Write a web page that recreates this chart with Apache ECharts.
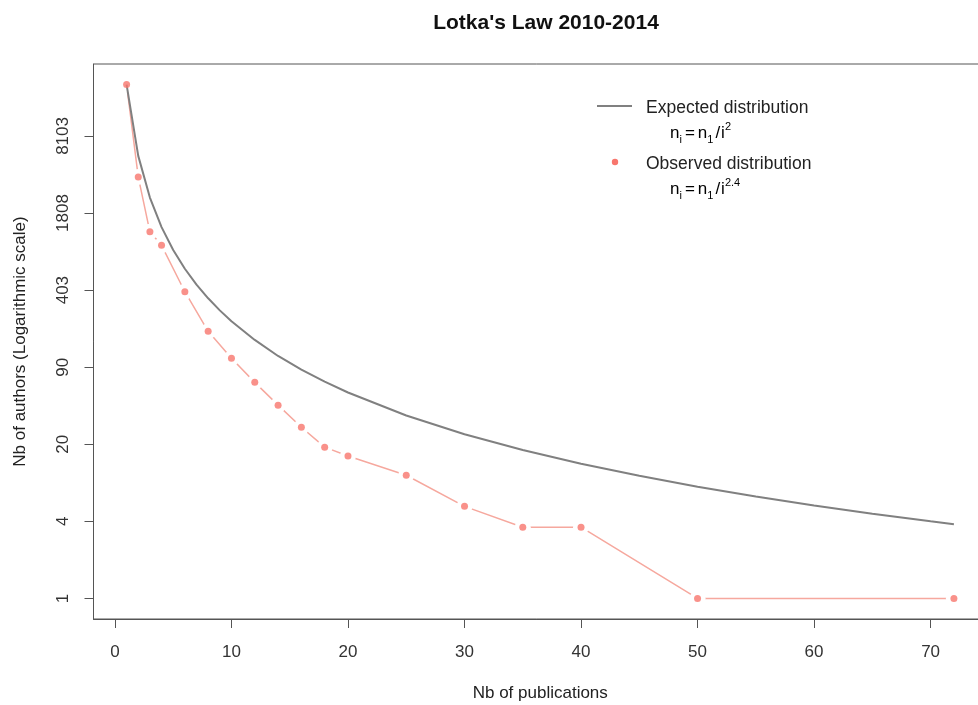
<!DOCTYPE html>
<html><head><meta charset="utf-8">
<script src="https://cdn.jsdelivr.net/npm/echarts@6/dist/echarts.min.js"></script>
<style>html,body{margin:0;padding:0;background:#fff}#c{width:978px;height:705px}</style>
</head><body><div id="c"></div>
<script>
const chartTitle = "Lotka's Law 2010-2014";
const xName = 'Nb of publications';
const yName = 'Nb of authors (Logarithmic scale)';
const observedX = [1,2,3,4,6,8,10,12,14,16,18,20,25,30,35,40,50,72];
const observedY = [22000,3650,1255,964,391,181,107,67,43,28,19,16,11,6,4,4,1,1];
const expectedX = [1,2,3,4,5,6,7,8,9,10,12,14,16,18,20,25,30,35,40,45,50,55,60,65,70,72];
const expectedY = [22000,5500,2444,1375,880,611,449,344,272,220,153,112,86,68,55,35.2,24.4,18,13.75,10.9,8.8,7.27,6.1,5.2,4.49,4.24];
const xTicks = [0,10,20,30,40,50,60,70];
const yTicks = [1,4.4817,20.0855,90.0171,403.4288,1808.0424,8103.0839];
const legendNames = ['Expected distribution','Observed distribution'];

const FONT = 'Liberation Sans, Arial, sans-serif';
const AX = '#555';
const obsData = observedX.map((x,i)=>[x, observedY[i]]);
const expData = expectedX.map((x,i)=>[x, expectedY[i]]);

const formulaRich = {
  t:{fontSize:17, fontFamily:FONT, color:'#222', lineHeight:24, verticalAlign:'middle'},
  eq:{fontSize:17, fontFamily:FONT, color:'#222', lineHeight:24, verticalAlign:'middle', padding:[0,3,0,3]},
  sl:{fontSize:17, fontFamily:FONT, color:'#222', lineHeight:24, verticalAlign:'middle', padding:[0,1,0,2]},
  sub:{fontSize:11, fontFamily:FONT, color:'#222', lineHeight:24, verticalAlign:'bottom'},
  sup:{fontSize:11, fontFamily:FONT, color:'#222', lineHeight:24, verticalAlign:'top'}
};

const chart = echarts.init(document.getElementById('c'), null, {renderer:'canvas'});
chart.setOption({
  animation:false,
  backgroundColor:'#fff',
  textStyle:{fontFamily:FONT},
  title:{text:chartTitle, left:541, top:8, textAlign:'center',
    textStyle:{fontSize:21, fontWeight:'bold', fontFamily:FONT, color:'#111'}},
  grid:{left:93.5, top:64, width:893.5, height:555, show:true, borderColor:AX, borderWidth:1,
    containLabel:false, outerBoundsMode:'none'},
  xAxis:{type:'value', min:-1.84, max:74.84, name:xName, nameLocation:'middle', nameGap:66,
    nameTextStyle:{fontSize:17, color:'#222', fontFamily:FONT},
    axisLine:{show:true, onZero:false, lineStyle:{color:AX, width:1}},
    axisTick:{show:true, length:9, customValues:xTicks, lineStyle:{color:AX, width:1}},
    axisLabel:{customValues:xTicks, margin:25, fontSize:17, color:'#333', fontFamily:FONT},
    splitLine:{show:false}},
  yAxis:{type:'log', logBase:Math.E, min:Math.exp(-0.4), max:Math.exp(10.4),
    name:yName, nameLocation:'middle', nameGap:65, nameRotate:90,
    nameTextStyle:{fontSize:17, color:'#222', fontFamily:FONT},
    axisLine:{show:true, onZero:false, lineStyle:{color:AX, width:1}},
    axisTick:{show:true, length:9, customValues:yTicks, lineStyle:{color:AX, width:1}},
    axisLabel:{customValues:yTicks, rotate:90, margin:22, fontSize:17, color:'#333', fontFamily:FONT,
      formatter:v=>String(Math.round(v))},
    splitLine:{show:false}, minorTick:{show:false}},
  series:[
    {name:legendNames[1]+' line', type:'line', data:obsData, z:2, silent:true,
      symbol:'circle', symbolSize:16, showSymbol:true,
      itemStyle:{color:'#fff', borderWidth:0},
      lineStyle:{color:'#f6a89e', width:1.5}},
    {name:legendNames[0], type:'line', data:expData, z:3, silent:true, showSymbol:false,
      lineStyle:{color:'#808080', width:2}},
    {name:legendNames[1], type:'scatter', data:obsData, z:4, silent:true,
      symbol:'circle', symbolSize:7, itemStyle:{color:'#f8766d'}}
  ],
  graphic:[
    {type:'line', shape:{x1:597, y1:106, x2:632, y2:106}, style:{stroke:'#808080', lineWidth:2}},
    {type:'text', x:646, y:108, style:{text:legendNames[0], font:'17.5px '+FONT, fill:'#222', textVerticalAlign:'middle'}},
    {type:'text', x:670, y:133, style:{text:'{t|n}{sub|i}{eq|=}{t|n}{sub|1}{sl|/}{t|i}{sup|2}', rich:formulaRich, textVerticalAlign:'middle'}},
    {type:'circle', shape:{cx:615, cy:162, r:3.2}, style:{fill:'#f8766d'}},
    {type:'text', x:646, y:164, style:{text:legendNames[1], font:'17.5px '+FONT, fill:'#222', textVerticalAlign:'middle'}},
    {type:'text', x:670, y:189, style:{text:'{t|n}{sub|i}{eq|=}{t|n}{sub|1}{sl|/}{t|i}{sup|2.4}', rich:formulaRich, textVerticalAlign:'middle'}}
  ]
});
</script></body></html>
